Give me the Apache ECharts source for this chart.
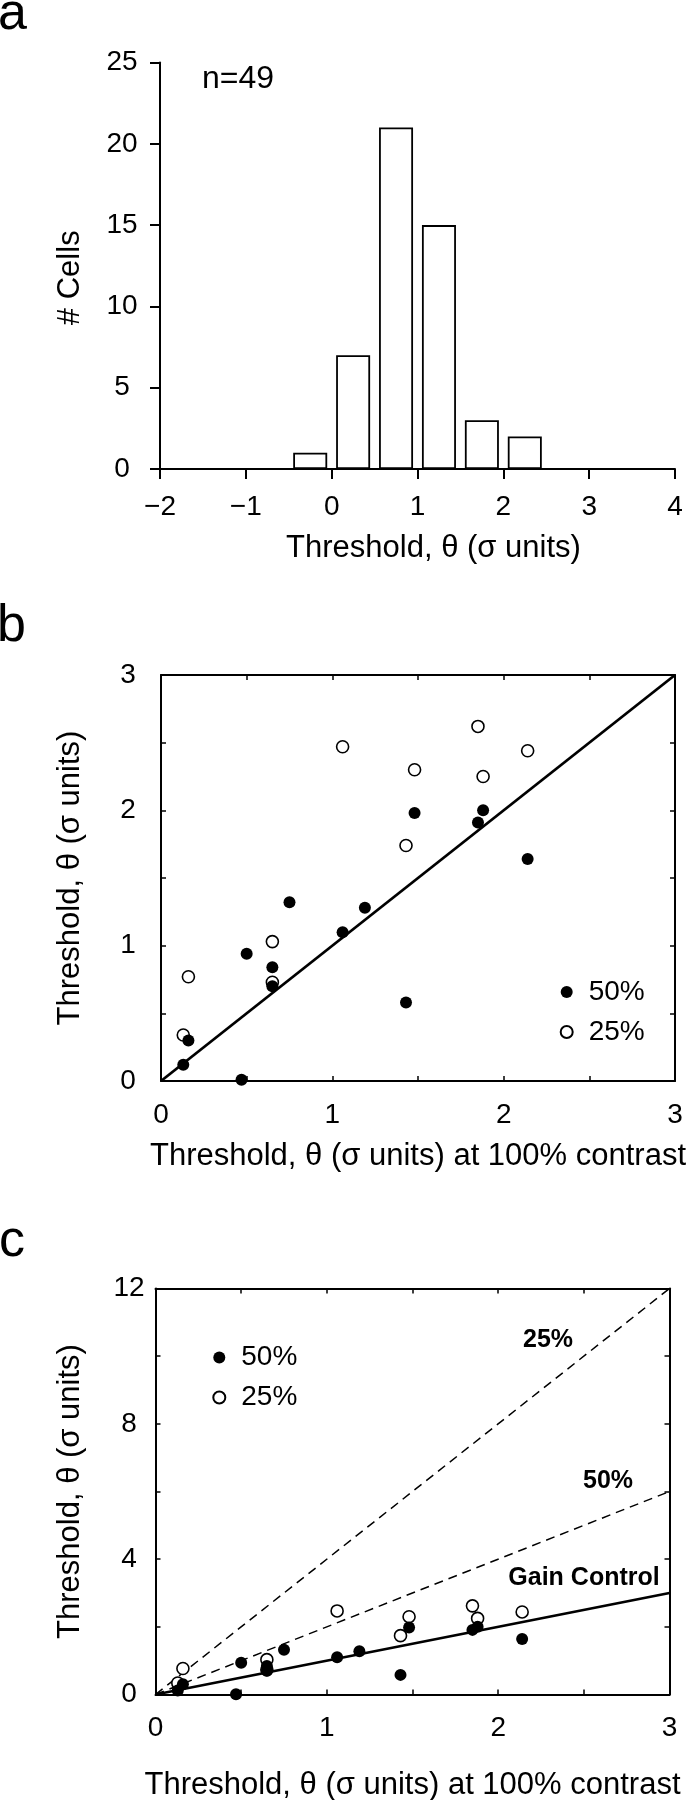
<!DOCTYPE html>
<html><head><meta charset="utf-8">
<script src="https://cdn.jsdelivr.net/npm/echarts@6/dist/echarts.min.js"></script>
<style>html,body{margin:0;padding:0;background:#fff}#chart{width:697px;height:1800px}</style>
</head><body><div id="chart"></div>
<script>
// ---------- Panel a: histogram of thresholds ----------
const histBinCenters = [-0.25, 0.25, 0.75, 1.25, 1.75, 2.25];
const histCounts = [1, 7, 21, 15, 3, 2];
const histXTicks = [-2, -1, 0, 1, 2, 3, 4];
const histXTickLabels = ['\u22122', '\u22121', '0', '1', '2', '3', '4'];
const histYTicks = [0, 5, 10, 15, 20, 25];

// ---------- Panels b & c: threshold at reduced contrast vs 100% contrast ----------
const x50 = [0.13, 0.16, 0.47, 0.50, 0.65, 0.65, 0.75, 1.06, 1.19, 1.43, 1.48, 1.85, 1.88, 2.14];
const theta50 = [0.12, 0.30, 0.01, 0.94, 0.84, 0.70, 1.32, 1.10, 1.28, 0.58, 1.98, 1.91, 2.00, 1.64];
const x25 = [0.13, 0.16, 0.65, 0.65, 1.06, 1.43, 1.48, 1.85, 1.88, 2.14];
const theta25 = [0.34, 0.77, 1.03, 0.73, 2.47, 1.74, 2.30, 2.62, 2.25, 2.44];

const unityLine = [[0, 0], [3, 3]];          // Gain control / identity
const predicted50 = [[0, 0], [3, 6]];        // 50% contrast prediction
const predicted25 = [[0, 0], [3, 12]];       // 25% contrast prediction

const scatterTickLabelsB = [0, 1, 2, 3];
const scatterYTickLabelsC = [0, 4, 8, 12];

// ---------- rendering ----------
const FONT = 'Liberation Sans';
const BLACK = '#000';
const pts = (xs, ys) => xs.map((x, i) => [x, ys[i]]);
const onlyIn = (list) => (v) => list.indexOf(v) >= 0 ? String(v) : '';

function axisBase(extra) {
  return Object.assign({
    type: 'value',
    axisLine: { show: true, onZero: false, lineStyle: { color: BLACK, width: 2 } },
    axisTick: { show: true, inside: true, length: 5, lineStyle: { color: BLACK, width: 1.5 } },
    splitLine: { show: false },
    axisLabel: { show: false },
    nameTextStyle: { fontFamily: FONT, fontSize: 31, color: BLACK, align: 'center', verticalAlign: 'middle' }
  }, extra);
}
function tickLabel(margin, formatter, extra) {
  return Object.assign({ show: true, margin: margin, fontFamily: FONT, fontSize: 28, color: BLACK,
    align: 'center', verticalAlign: 'middle', formatter: formatter }, extra || {});
}

const grids = [
  { left: 160, top: 62.5, width: 515, height: 406.5 },
  { left: 161, top: 675, width: 514, height: 406 },
  { left: 155.5, top: 1288.5, width: 514, height: 406 }
].map(g => Object.assign({ containLabel: false, outerBoundsMode: 'none' }, g));

const xAxes = [
  axisBase({ gridIndex: 0, min: -2, max: 4, interval: 1,
    axisTick: { show: true, inside: false, length: 10, lineStyle: { color: BLACK, width: 2 } },
    axisLabel: tickLabel(38, v => { const i = histXTicks.indexOf(v); return i >= 0 ? histXTickLabels[i] : ''; }),
    name: 'Threshold, \u03b8 (\u03c3 units)', nameLocation: 'middle', nameGap: 79,
    nameTextStyle: { fontFamily: FONT, fontSize: 31, color: BLACK, align: 'center', verticalAlign: 'middle', padding: [0, 0, 0, 32] } }),
  axisBase({ gridIndex: 1, min: 0, max: 3, interval: 0.5, position: 'bottom',
    axisLabel: tickLabel(34, onlyIn(scatterTickLabelsB)),
    name: 'Threshold, \u03b8 (\u03c3 units) at 100% contrast', nameLocation: 'middle', nameGap: 75 }),
  axisBase({ gridIndex: 1, min: 0, max: 3, interval: 0.5, position: 'top' }),
  axisBase({ gridIndex: 2, min: 0, max: 3, interval: 0.5, position: 'bottom',
    axisLabel: tickLabel(33.5, onlyIn(scatterTickLabelsB)),
    name: 'Threshold, \u03b8 (\u03c3 units) at 100% contrast', nameLocation: 'middle', nameGap: 90.5 }),
  axisBase({ gridIndex: 2, min: 0, max: 3, interval: 0.5, position: 'top' })
];

const yAxes = [
  axisBase({ gridIndex: 0, min: 0, max: 25, interval: 5,
    axisTick: { show: true, inside: false, length: 10, lineStyle: { color: BLACK, width: 2 } },
    axisLabel: tickLabel(38, onlyIn(histYTicks)),
    name: '# Cells', nameLocation: 'middle', nameGap: 90,
    nameTextStyle: { fontFamily: FONT, fontSize: 31, color: BLACK, align: 'center', verticalAlign: 'middle', padding: [0, 24, 0, 0] } }),
  axisBase({ gridIndex: 1, min: 0, max: 3, interval: 0.5, position: 'left',
    axisLabel: tickLabel(33, onlyIn(scatterTickLabelsB)),
    name: 'Threshold, \u03b8 (\u03c3 units)', nameLocation: 'middle', nameGap: 91 }),
  axisBase({ gridIndex: 1, min: 0, max: 3, interval: 0.5, position: 'right' }),
  axisBase({ gridIndex: 2, min: 0, max: 12, interval: 2, position: 'left',
    axisLabel: tickLabel(26.5, onlyIn(scatterYTickLabelsC)),
    name: 'Threshold, \u03b8 (\u03c3 units)', nameLocation: 'middle', nameGap: 85.5 }),
  axisBase({ gridIndex: 2, min: 0, max: 12, interval: 2, position: 'right' })
];

const openStyle = { color: '#fff', borderColor: BLACK, borderWidth: 1.6, opacity: 1 };
const filledStyle = { color: BLACK, borderColor: BLACK, borderWidth: 0, opacity: 1 };

function scatterPair(xi, yi) {
  return [
    { type: 'scatter', name: '25%', xAxisIndex: xi, yAxisIndex: yi, data: pts(x25, theta25),
      symbol: 'circle', symbolSize: 12, itemStyle: openStyle, z: 3 },
    { type: 'scatter', name: '50%', xAxisIndex: xi, yAxisIndex: yi, data: pts(x50, theta50),
      symbol: 'circle', symbolSize: 12, itemStyle: filledStyle, z: 4 }
  ];
}

const series = [
  { type: 'bar', name: 'cells', xAxisIndex: 0, yAxisIndex: 0, data: pts(histBinCenters, histCounts),
    barWidth: 34, itemStyle: { color: '#fff', borderColor: BLACK, borderWidth: 1.8, opacity: 1 } },
  { type: 'line', name: 'unity b', xAxisIndex: 1, yAxisIndex: 1, data: unityLine, symbol: 'none',
    lineStyle: { color: BLACK, width: 2.8 }, z: 2 },
  ...scatterPair(1, 1),
  { type: 'line', name: 'Gain Control', xAxisIndex: 3, yAxisIndex: 3, data: unityLine, symbol: 'none',
    lineStyle: { color: BLACK, width: 2.8 }, z: 2 },
  { type: 'line', name: 'pred 50', xAxisIndex: 3, yAxisIndex: 3, data: predicted50, symbol: 'none',
    lineStyle: { color: BLACK, width: 1.5, type: [9, 6] }, z: 2 },
  { type: 'line', name: 'pred 25', xAxisIndex: 3, yAxisIndex: 3, data: predicted25, symbol: 'none',
    lineStyle: { color: BLACK, width: 1.5, type: [9, 6] }, z: 2 },
  ...scatterPair(3, 3)
];

function legendAt(left, top) {
  return { show: true, orient: 'vertical', left: left, top: top, padding: 0, itemGap: 12,
    itemWidth: 12, itemHeight: 12, icon: 'circle', selectedMode: false,
    data: ['50%', '25%'],
    textStyle: { fontFamily: FONT, fontSize: 28, color: BLACK, padding: [0, 0, 0, 11] } };
}

const txt = (x, y, text, size, weight, align) => ({ type: 'text', x: x, y: y, silent: true,
  style: { text: text, fontFamily: FONT, fontSize: size, fontWeight: weight || 'normal', fill: BLACK,
    align: align || 'left', verticalAlign: 'middle' } });

const option = {
  animation: false,
  backgroundColor: '#fff',
  grid: grids,
  xAxis: xAxes,
  yAxis: yAxes,
  legend: [legendAt(559.7, 978), legendAt(212.3, 1343.5)],
  series: series,
  graphic: [
    txt(-2, 15, 'a', 52),
    txt(-3, 627, 'b', 52),
    txt(-1, 1242, 'c', 52),
    txt(202, 79, 'n=49', 32),
    txt(548, 1340, '25%', 25, 'bold', 'center'),
    txt(608, 1481, '50%', 25, 'bold', 'center'),
    txt(584, 1578, 'Gain Control', 25, 'bold', 'center')
  ]
};

const chart = echarts.init(document.getElementById('chart'), null, { renderer: 'canvas', width: 697, height: 1800 });
chart.setOption(option);
</script>
</body></html>
